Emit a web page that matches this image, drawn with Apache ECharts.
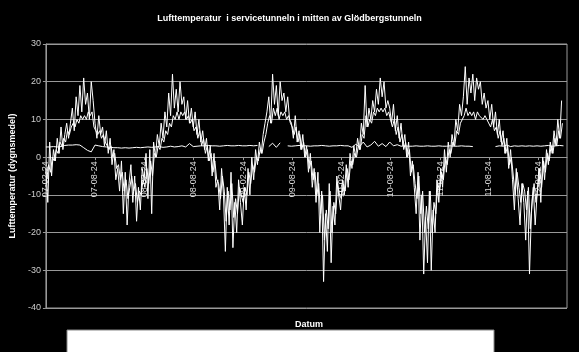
<!DOCTYPE html>
<html>
<head>
<meta charset="utf-8">
<script src="https://cdn.jsdelivr.net/npm/echarts@6/dist/echarts.min.js"></script>
<style>
  html, body { margin: 0; padding: 0; background: #000; }
  #chart { width: 579px; height: 352px; }
</style>
</head>
<body>
<div id="chart"></div>
<script>
// dygnsmedel at roughly one value a week from 2007-02-24
const outdoorTemp = [
  -3, -12, 4, -5, 2, -1, 5, 1, 8, 2, 6, 9, 5,
  9, 13, 7, 16, 11, 19, 12, 21, 14, 17, 10, 20, 15,
  9, 5, 11, 6, 8, 3, 7, 1, 5, -2, 2, -6, -3,
  -9, -1, -15, -4, -18, -7, -2, -12, -5, -17, -8, -14, -3,
  -6, 1, -11, 2, -15, 4, 0, 6, 3, 9, 5, 12, 8,
  17, 11, 22, 13, 18, 12, 20, 14, 16, 10, 15, 9, 13,
  8, 12, 6, 10, 4, 7, 2, 5, -1, 3, -5, 1, -8,
  -6, -14, -3, -10, -25, -8, -18, -4, -24, -12, -20, -6, -12,
  -18, -8, -14, -3, -10, 0, -6, 2, -2, 4, 1, 6, 9,
  12, 16, 9, 22, 14, 19, 11, 20, 15, 17, 12, 16, 10,
  9, 5, 11, 4, 7, 2, 6, 0, 3, -4, 1, -8, -3,
  -12, -4, -20, -9, -33, -15, -25, -7, -28, -13, -18, -5, -10,
  -14, -6, -10, -2, -8, 1, -3, 3, 0, 5, 2, 9, 6,
  19, 8, 13, 10, 15, 12, 18, 14, 21, 16, 20, 13, 15,
  13, 9, 14, 7, 11, 5, 9, 3, 6, 0, 4, -5, -1,
  -8, -15, -4, -22, -10, -31, -16, -28, -9, -30, -14, -20, -6,
  -12, -3, -8, 2, -4, 4, 0, 6, 3, 10, 7, 14, 11,
  16, 24, 14, 21, 17, 22, 15, 21, 18, 20, 14, 17, 13,
  15, 10, 14, 8, 12, 6, 10, 4, 7, 1, 5, -3, 2,
  -6, -14, -3, -11, -18, -7, -12, -22, -9, -31, -15, -8, -18,
  -10, -3, -12, 0, -6, 2, -2, 4, 1, 7, 3, 10, 5, 15
]

// second, calmer curve (the inner line in summer), one value a week from 2007-02-27
const portalTemp = [
  -6, -2, -4, 0, -1, 2, 1, 4, 3, 5, 4, 7, 6,
  8, 9, 8, 10, 9, 11, 10, 11, 10, 12, 11, 12, 8,
  7, 6, 7, 5, 6, 4, 4, 2, 3, 0, 1, -3, -2,
  -6, -4, -9, -6, -11, -8, -5, -9, -7, -12, -9, -10, -6,
  -8, -3, -7, -1, -5, 1, 0, 3, 2, 5, 4, 7, 6,
  9, 8, 11, 10, 12, 10, 12, 11, 12, 10, 11, 9, 10,
  7, 8, 5, 7, 3, 5, 1, 3, -1, 1, -4, -1, -6,
  -7, -11, -5, -9, -17, -9, -14, -7, -16, -11, -15, -8, -10,
  -12, -8, -10, -4, -7, -2, -4, 0, -1, 2, 1, 4, 6,
  9, 11, 9, 13, 11, 13, 10, 12, 11, 12, 10, 11, 9,
  8, 6, 8, 4, 6, 2, 4, 0, 2, -3, -1, -6, -4,
  -10, -7, -15, -10, -22, -14, -19, -9, -20, -12, -15, -7, -10,
  -11, -7, -9, -3, -6, -1, -2, 1, 0, 3, 2, 6, 5,
  11, 8, 10, 9, 12, 11, 13, 12, 13, 12, 13, 11, 12,
  10, 8, 10, 6, 8, 4, 6, 2, 4, 0, 2, -4, -2,
  -7, -11, -5, -15, -9, -20, -13, -19, -9, -20, -12, -15, -7,
  -9, -4, -6, 0, -2, 2, 1, 4, 3, 7, 6, 9, 9,
  11, 13, 11, 12, 11, 12, 10, 12, 11, 11, 10, 11, 10,
  10, 8, 10, 7, 8, 5, 7, 3, 5, 1, 3, -2, 0,
  -5, -10, -4, -8, -12, -7, -9, -14, -8, -19, -11, -7, -12,
  -8, -3, -8, -1, -4, 1, -1, 3, 1, 5, 3, 7, 5, 9
]

// servicetunneln, one value every 14 days, null = no data
const tunnelTemp = [
  2.7, 2.7, 2.8, 2.7, 2.8, 3.1, 3.2, 3.2, 3.3, 3.2,
  2.5, 1.8, 1.4, 3.2, 3.0, 2.8, 2.7, 2.6, 2.5, 2.5,
  2.4, 2.5, 2.4, 2.5, 2.6, 2.5, 2.6, 2.7, 2.6, 2.7,
  2.8, 2.6, 2.7, 2.9, 2.7, 2.8, 3.0, 2.7, 3.6, 2.8,
  2.9, 3.0, 3.0, 3.1, 3.0, 3.0, 2.9, 3.0, 3.1, 3.0,
  3.0, 3.1, 3.0, 3.0, 3.1, 3.0, 3.1, null, null, 2.8,
  3.7, 2.6, 3.8, null, 3.0, 2.9, 3.0, 3.1, 3.0, 3.0,
  2.9, 3.0, 3.0, 3.1, 3.0, 2.9, 3.0, 3.0, 3.1, 3.0,
  3.0, 2.6, 3.4, 2.8, 4.0, 2.7, 3.2, 4.2, 2.9, 3.6,
  2.8, 4.0, 3.0, 3.3, 2.9, 3.0, 2.9, 2.9, 3.0, 2.9,
  2.9, 3.0, 2.9, 2.9, 3.0, 2.9, 2.9, 3.0, 2.9, 2.9,
  3.0, 2.9, 2.9, 2.8, null, null, null, null, null, 2.8,
  3.0, 2.9, 3.2, 2.8, 3.0, 2.9, 3.0, 2.9, 3.0, 2.9,
  3.0, 2.9, 3.0, 3.1, 2.9, 3.0, 3.1, 3.0
]

const dateLabels = ['07-02-24', '07-08-24', '08-02-24', '08-08-24', '09-02-24', '09-08-24',
  '10-02-24', '10-08-24', '11-02-24', '11-08-24', '12-02-24']

const yMin = -40
const yMax = 30

// x axis counts days from 2007-02-24
const DAY = 864e5
const startMs = Date.UTC(2007, 1, 24)
const endDay = Math.round((Date.UTC(2012, 5, 8) - startMs) / DAY)

const toDay = s => {
  const p = s.split('-').map(Number)
  return Math.round((Date.UTC(2000 + p[0], p[1] - 1, p[2]) - startMs) / DAY)
}
const labelDays = dateLabels.map(toDay)
const labelByDay = {}
labelDays.forEach((d, i) => { labelByDay[d] = dateLabels[i] })

const withDays = (arr, step, offset) => arr.map((v, i) => [offset + i * step, v])

// date axis sits on the 0-line, like in the original
const gridTop = 44
const gridBottom = 44
const plotHeight = 352 - gridTop - gridBottom
const zeroOffset = -plotHeight * (0 - yMin) / (yMax - yMin)

const chart = echarts.init(document.getElementById('chart'))

const lineStyle = { color: '#fff', width: 1 }

chart.setOption({
  backgroundColor: '#000',
  animation: false,
  textStyle: { fontFamily: 'Liberation Sans, Arial, sans-serif' },
  title: [
    {
      text: 'Lufttemperatur  i servicetunneln i mitten av Glödbergstunneln',
      left: 'center',
      top: 9,
      textStyle: { color: '#fff', fontSize: 9, fontWeight: 'bold' }
    },
    {
      text: 'Datum',
      left: 290,
      top: 315,
      textStyle: { color: '#fff', fontSize: 9, fontWeight: 'bold' }
    }
  ],
  grid: {
    left: 38,
    right: 12,
    top: gridTop,
    bottom: gridBottom,
    show: true,
    borderColor: '#999',
    borderWidth: 1
  },
  xAxis: {
    type: 'value',
    min: 0,
    max: endDay,
    offset: zeroOffset,
    axisLine: { onZero: false, lineStyle: { color: '#999' } },
    axisTick: { show: true, length: 3, customValues: labelDays, lineStyle: { color: '#999' } },
    axisLabel: {
      customValues: labelDays,
      rotate: 90,
      color: '#ddd',
      fontSize: 9,
      margin: 4,
      formatter: v => labelByDay[v] || ''
    },
    splitLine: { show: false }
  },
  yAxis: {
    type: 'value',
    min: yMin,
    max: yMax,
    interval: 10,
    name: 'Lufttemperatur (dygnsmedel)',
    nameLocation: 'middle',
    nameGap: 22,
    nameTextStyle: { color: '#fff', fontSize: 9, fontWeight: 'bold' },
    axisLine: { show: true, onZero: false, lineStyle: { color: '#999' } },
    axisTick: { show: true, length: 3, lineStyle: { color: '#999' } },
    axisLabel: { color: '#ccc', fontSize: 9, margin: 5 },
    splitLine: { lineStyle: { color: '#999', width: 1 } }
  },
  graphic: [
    {
      type: 'rect',
      shape: { x: 67, y: 330, width: 427, height: 30 },
      style: { fill: '#fff', stroke: '#888', lineWidth: 1 }
    }
  ],
  series: [
    {
      name: 'Ute',
      type: 'line',
      data: withDays(outdoorTemp, 7, 0),
      showSymbol: false,
      lineStyle: lineStyle
    },
    {
      name: 'Portal',
      type: 'line',
      data: withDays(portalTemp, 7, 3),
      showSymbol: false,
      lineStyle: lineStyle
    },
    {
      name: 'Servicetunnel',
      type: 'line',
      data: withDays(tunnelTemp, 14, 0),
      showSymbol: false,
      connectNulls: false,
      lineStyle: lineStyle
    }
  ]
})
</script>
</body>
</html>
